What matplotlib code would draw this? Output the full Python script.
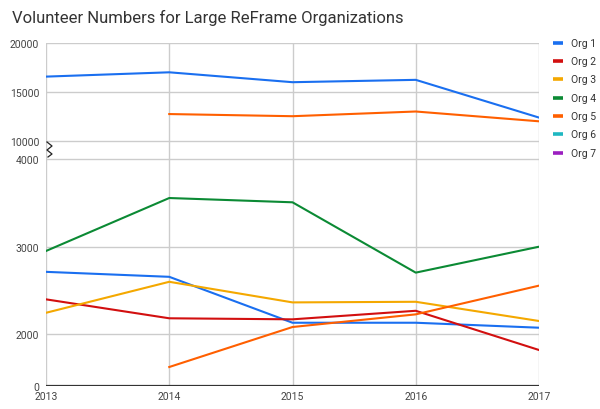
import numpy as np
import matplotlib
matplotlib.use("Agg")
import matplotlib.pyplot as plt
from matplotlib.lines import Line2D

plt.rcParams["font.family"] = ["Roboto", "DejaVu Sans"]

YEARS = [2013, 2014, 2015, 2016, 2017]
ORG_NAMES = ["Org 1", "Org 2", "Org 3", "Org 4", "Org 5", "Org 6", "Org 7"]
ORG_COLORS = ["#1a6ff0", "#d20f0f", "#f4a800", "#0b8a34", "#ff5f00", "#1fb7c1", "#9b1fc0"]

# lower part of the broken axis (0 - 4000)
org1_low = [2712, 2655, 2129, 2129, 2072]
org2 = [2397, 2180, 2168, 2266, 1381]
org3 = [2243, 2598, 2362, 2369, 2149]
org4 = [2951, 3557, 3508, 2703, 3000]
org5_low = [np.nan, 723, 2080, 2225, 2554]
# upper part (10000 - 20000)
org1_high = [16570, 17010, 16000, 16240, 12390]
org5_high = [np.nan, 12750, 12530, 13010, 12010]

Y_TICKS = [0, 2000, 3000, 4000, 10000, 15000, 20000]

# piecewise scale: value -> pixel height above the baseline
KNOT_V = [-20000, 0, 2000, 3000, 4000, 10000, 15000, 20000, 40000]
KNOT_P = [-517, 0, 51.7, 139.0, 226.4, 244.7, 293.7, 342.7, 538.7]


def forward(v):
    return np.interp(np.asarray(v, float), KNOT_V, KNOT_P)


def inverse(p):
    return np.interp(np.asarray(p, float), KNOT_P, KNOT_V)


W, H = 600, 410
fig = plt.figure(figsize=(W / 100, H / 100), dpi=100)
ax = fig.add_axes([46 / W, (H - 386.7) / H, 493 / W, 342.7 / H])
ax.set_yscale("function", functions=(forward, inverse))

grid = "#cccccc"
series = [
    (org1_low, 0), (org1_high, 0), (org2, 1), (org3, 2),
    (org4, 3), (org5_low, 4), (org5_high, 4),
]
for vals, ci in series:
    ax.plot(YEARS, vals, color=ORG_COLORS[ci], lw=1.5, zorder=3)

ax.set_xlim(YEARS[0], YEARS[-1])
ax.set_ylim(0, 20000)
ax.set_xticks(YEARS)
ax.set_xticklabels([str(y) for y in YEARS])
ax.set_yticks(Y_TICKS)
ax.set_yticklabels([str(t) for t in Y_TICKS])
ax.minorticks_off()
for x in YEARS:
    ax.axvline(x, color=grid, lw=1, zorder=1)
for t in Y_TICKS[1:]:
    ax.axhline(t, color=grid, lw=1, zorder=1)
ax.axhline(0, color="#333333", lw=1.6, zorder=4)
for s in ax.spines.values():
    s.set_visible(False)
ax.tick_params(length=0, labelsize=7.5, labelcolor="#444444")
ax.tick_params(axis="y", pad=5)
ax.tick_params(axis="x", pad=4)

# break marker between the two parts
zx = [47, 52, 47, 52, 48]
zy = [143, 147, 151, 155, 158]
fig.add_artist(Line2D([x / W for x in zx], [1 - y / H for y in zy],
                      transform=fig.transFigure, color="#222222", lw=0.9))

fig.text(12 / W, 1 - 18 / H, "Volunteer Numbers for Large ReFrame Organizations",
         fontsize=12, color="#333333", va="center", ha="left")

# legend
for i, (name, col) in enumerate(zip(ORG_NAMES, ORG_COLORS)):
    yy = 1 - (43.7 + i * 18.35) / H
    fig.add_artist(Line2D([553 / W, 563 / W], [yy, yy], transform=fig.transFigure,
                          color=col, lw=2.6, solid_capstyle="butt"))
    fig.text(571 / W, yy, name, fontsize=7.5, color="#333333", va="center", ha="left")

fig.savefig("out.png", dpi=100)
